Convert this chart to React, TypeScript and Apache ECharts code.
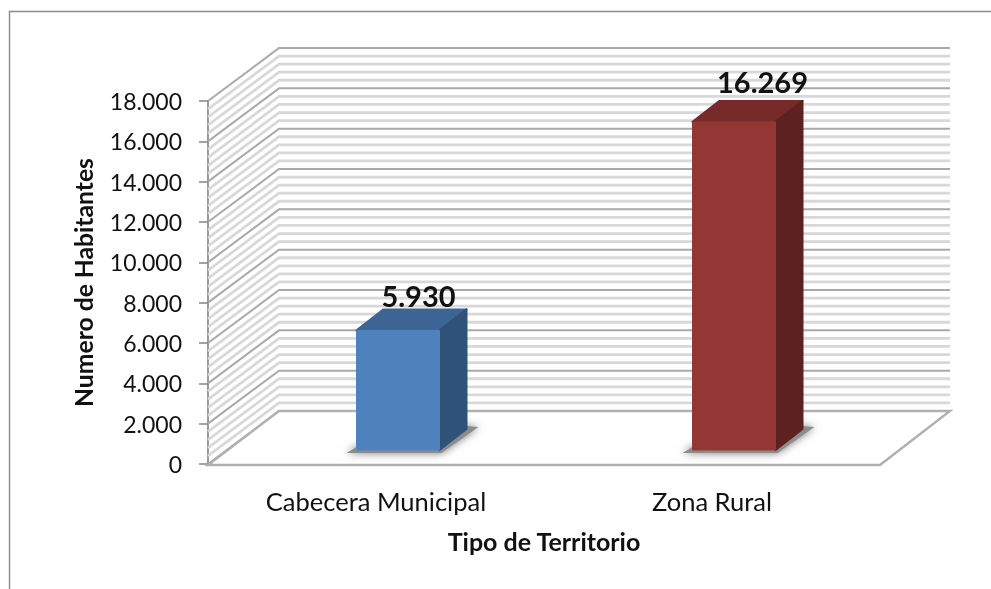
import React, { useEffect, useRef } from "react";
import * as echarts from "echarts";

const categories = ["Cabecera Municipal", "Zona Rural"];
const habitantes = [5930, 16269];
const barFront = ["#4f81bd", "#943634"];
const barTop = ["#3c6595", "#762b2a"];
const barSide = ["#2f5278", "#5d2120"];
const labelShiftX = [62, 70];
const labelShiftY = [-35, -40];
const yMax = 18000;
const yStep = 2000;
const minorStep = 400;
const wallLevels: number[] = [];
for (let v = 0; v <= yMax; v += minorStep) wallLevels.push(v);

const dots = (v: number) => String(v).replace(/\B(?=(\d{3})+$)/g, ".");
const FONT = "Lato";

const DEPTH_X = 71;
const DEPTH_Y = 53;

export default function App() {
  const ref = useRef<HTMLDivElement>(null);
  useEffect(() => {
    const chart = echarts.init(ref.current!, undefined, { renderer: "svg" });
    chart.setOption({
      animation: false,
      backgroundColor: "#fff",
      graphic: [
        {
          type: "polyline",
          silent: true,
          z: 0,
          shape: { points: [[9.5, 600], [9.5, 11.5], [995, 11.5]] },
          style: { fill: "none", stroke: "#8a8a8a", lineWidth: 1.4 },
        },
      ],
      grid: { left: 208, width: 672, top: 101, height: 363 },
      xAxis: {
        type: "category",
        data: categories,
        axisLine: { show: false },
        axisTick: { show: false },
        axisLabel: { fontFamily: FONT, fontSize: 25.5, color: "#111", margin: 24 },
        name: "Tipo de Territorio",
        nameLocation: "middle",
        nameGap: 64,
        nameTextStyle: { fontFamily: FONT, fontSize: 25, fontWeight: "bold", color: "#111" },
      },
      yAxis: {
        type: "value",
        min: 0,
        max: yMax,
        interval: yStep,
        splitLine: { show: false },
        axisLine: { show: true, lineStyle: { color: "#9a9a9a", width: 2 } },
        axisTick: { show: true, length: 9, lineStyle: { color: "#8c8c8c", width: 1.6 } },
        axisLabel: { fontFamily: FONT, fontSize: 23, color: "#111", margin: 26, formatter: (v: number) => dots(v) },
        name: "Numero de Habitantes",
        nameLocation: "middle",
        nameGap: 112,
        nameTextStyle: { fontFamily: FONT, fontSize: 24.7, fontWeight: "bold", color: "#111" },
      },
      series: [
        {
          type: "custom",
          name: "wall",
          silent: true,
          clip: false,
          z: 1,
          data: wallLevels.map((v) => [0, v]),
          renderItem: (_p: any, api: any) => {
            const v = api.value(1);
            const [, y] = api.coord([0, v]);
            const left = 208;
            const major = v % yStep === 0;
            const stroke = major ? "#a9a9a9" : "#d8d8d8";
            return {
              type: "polyline",
              shape: {
                points: [
                  [left, y],
                  [left + DEPTH_X, y - DEPTH_Y],
                  [left + DEPTH_X + 671, y - DEPTH_Y],
                ],
              },
              style: { fill: "none", stroke, lineWidth: major ? 2 : 2.8 },
            };
          },
        },
        {
          type: "custom",
          name: "floor",
          silent: true,
          clip: false,
          z: 2,
          data: [[0, 0]],
          renderItem: (_p: any, api: any) => {
            const [, y] = api.coord([0, 0]);
            return {
              type: "polygon",
              shape: {
                points: [
                  [208, y + 1],
                  [880, y + 1],
                  [950, y - DEPTH_Y],
                  [279, y - DEPTH_Y],
                ],
              },
              style: { fill: "#fff", stroke: "#b0b0b0", lineWidth: 2.4 },
            };
          },
        },
        {
          type: "custom",
          name: "Habitantes",
          clip: false,
          z: 3,
          data: habitantes.map((v, i) => [i, v]),
          renderItem: (_p: any, api: any) => {
            const i = api.value(0);
            const [cx, yTop0] = api.coord([i, api.value(1)]);
            const [, yBase0] = api.coord([i, 0]);
            const x0 = cx + 22 - 41.5;
            const x1 = x0 + 83;
            const yT = yTop0 - 14;
            const yB = yBase0 - 14;
            const dx = 27;
            const dy = 21;
            const edge = (c: string) => ({ fill: c, stroke: c, lineWidth: 2, lineJoin: "round" });
            return {
              type: "group",
              children: [
                {
                  type: "polygon",
                  shape: {
                    points: [
                      [x0 - 10, yB + 3],
                      [x1 + 2, yB + 3],
                      [x1 + dx + 12, yB - dy - 2],
                      [x1 + dx, yB - dy - 3],
                      [x0, yB - 3],
                    ],
                  },
                  style: { fill: "#8c8c8c", shadowBlur: 8, shadowColor: "#777" },
                },
                {
                  type: "polygon",
                  shape: { points: [[x0, yT], [x0 + dx, yT - dy], [x1 + dx, yT - dy], [x1, yT]] },
                  style: edge(barTop[i]),
                },
                {
                  type: "polygon",
                  shape: { points: [[x1, yT], [x1 + dx, yT - dy], [x1 + dx, yB - dy], [x1, yB]] },
                  style: edge(barSide[i]),
                },
                {
                  type: "rect",
                  shape: { x: x0, y: yT, width: x1 - x0, height: yB - yT },
                  style: { ...edge(barFront[i]), lineWidth: 1 },
                },
                {
                  type: "text",
                  style: {
                    text: dots(api.value(1)),
                    x: x0 + labelShiftX[i],
                    y: yT + labelShiftY[i],
                    align: "center",
                    verticalAlign: "middle",
                    fontFamily: FONT,
                    fontSize: 29,
                    fontWeight: "bold",
                    fill: "#111",
                  },
                },
              ],
            };
          },
        },
      ],
    });
    return () => chart.dispose();
  }, []);
  return (
    <div
      ref={ref}
      style={{ position: "fixed", left: 0, top: 0, width: 991, height: 589, filter: "blur(0.6px)" }}
    />
  );
}
